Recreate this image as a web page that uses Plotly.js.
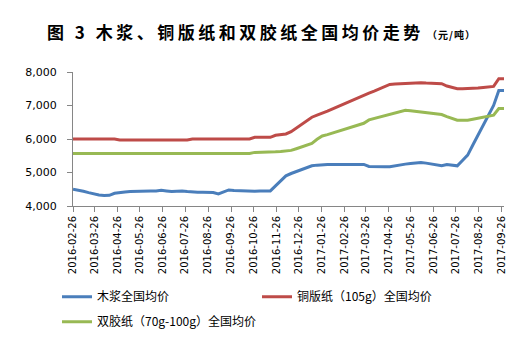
<!DOCTYPE html>
<html>
<head>
<meta charset="utf-8">
<script src="https://cdn.plot.ly/plotly-3.0.1.min.js"></script>
<style>html,body{margin:0;padding:0;background:#fff;}#chart{width:531px;height:337px;}
.gtitle{letter-spacing:3.5px;}</style>
</head>
<body>
<div id="chart"></div>
<script>
var dates = [
 "2016-02-26","2016-03-04","2016-03-11","2016-03-18","2016-03-25","2016-04-01","2016-04-08","2016-04-15","2016-04-22","2016-04-29",
 "2016-05-06","2016-05-13","2016-05-20","2016-05-27","2016-06-03","2016-06-10","2016-06-17","2016-06-24","2016-07-01","2016-07-08",
 "2016-07-15","2016-07-22","2016-07-29","2016-08-05","2016-08-12","2016-08-19","2016-08-26","2016-09-02","2016-09-09","2016-09-16",
 "2016-09-23","2016-09-30","2016-10-07","2016-10-14","2016-10-21","2016-10-28","2016-11-04","2016-11-11","2016-11-18","2016-11-25",
 "2016-12-02","2016-12-09","2016-12-16","2016-12-23","2016-12-30","2017-01-06","2017-01-13","2017-01-20","2017-01-27","2017-02-03",
 "2017-02-10","2017-02-17","2017-02-24","2017-03-03","2017-03-10","2017-03-17","2017-03-24","2017-03-31","2017-04-07","2017-04-14",
 "2017-04-21","2017-04-28","2017-05-05","2017-05-12","2017-05-19","2017-05-26","2017-06-02","2017-06-09","2017-06-16","2017-06-23",
 "2017-06-30","2017-07-07","2017-07-14","2017-07-21","2017-07-28","2017-08-04","2017-08-11","2017-08-18","2017-08-25","2017-09-01",
 "2017-09-08","2017-09-15","2017-09-22","2017-09-29"
];

var pulp = [
 4500,4480,4440,4400,4360,4330,4310,4320,4380,4410,
 4420,4430,4440,4440,4440,4450,4450,4470,4450,4430,
 4440,4450,4430,4410,4410,4410,4400,4400,4360,4420,
 4480,4460,4450,4440,4440,4440,4450,4450,4450,4600,
 4750,4900,4970,5030,5090,5150,5200,5220,5240,5240,
 5240,5240,5240,5240,5240,5240,5240,5180,5170,5170,
 5170,5170,5200,5240,5250,5270,5280,5300,5280,5250,
 5220,5200,5240,5220,5200,5360,5520,5820,6120,6420,
 6720,7000,7450,7450
];

var coated = [
 6000,6000,6000,6000,6000,6000,6000,6000,6000,5970,
 5970,5970,5970,5970,5970,5970,5970,5970,5970,5970,
 5970,5970,5970,6000,6000,6000,6000,6000,6000,6000,
 6000,6000,6000,6000,6000,6050,6050,6050,6050,6110,
 6130,6150,6220,6330,6440,6550,6650,6710,6760,6830,
 6900,6970,7030,7100,7170,7240,7300,7370,7430,7500,
 7570,7630,7640,7650,7660,7670,7680,7680,7670,7660,
 7650,7650,7580,7530,7500,7500,7500,7500,7520,7540,
 7550,7570,7800,7800
];

var offset = [
 5570,5570,5570,5570,5570,5570,5570,5570,5570,5570,
 5570,5570,5570,5570,5570,5570,5570,5570,5570,5570,
 5570,5570,5570,5570,5570,5570,5570,5570,5570,5570,
 5570,5570,5570,5570,5570,5600,5600,5600,5600,5620,
 5630,5640,5660,5710,5760,5810,5870,5990,6090,6130,
 6180,6220,6270,6320,6370,6420,6470,6570,6610,6650,
 6690,6730,6770,6800,6860,6840,6820,6800,6780,6760,
 6740,6730,6670,6610,6560,6560,6560,6590,6620,6650,
 6680,6710,6910,6910
];

var seriesNames = ["木浆全国均价", "铜版纸（105g）全国均价", "双胶纸（70g-100g）全国均价"];

var tickDates = ["2016-02-26","2016-03-26","2016-04-26","2016-05-26","2016-06-26","2016-07-26","2016-08-26","2016-09-26","2016-10-26","2016-11-26",
 "2016-12-26","2017-01-26","2017-02-26","2017-03-26","2017-04-26","2017-05-26","2017-06-26","2017-07-26","2017-08-26","2017-09-26"];

var yTicks = [4000, 5000, 6000, 7000, 8000];
var yTickText = ["4,000", "5,000", "6,000", "7,000", "8,000"];

var traces = [
 {x: dates, y: pulp, name: seriesNames[0], type: "scatter", mode: "lines", line: {color: "#4A7EBB", width: 3}, legend: "legend"},
 {x: dates, y: coated, name: seriesNames[1], type: "scatter", mode: "lines", line: {color: "#BE4B48", width: 3}, legend: "legend3"},
 {x: dates, y: offset, name: seriesNames[2], type: "scatter", mode: "lines", line: {color: "#98B954", width: 3}, legend: "legend2"}
];

var axisColor = "#868686";
var legendFont = {family: "Noto Sans CJK SC", size: 12, color: "#000"};
function legendAt(px, py) {
 return {
  orientation: "h", xref: "container", yref: "container",
  x: px / 531, xanchor: "left", y: 1 - py / 337, yanchor: "middle",
  itemwidth: 30, font: legendFont, bgcolor: "rgba(0,0,0,0)"
 };
}

var layout = {
 width: 531, height: 337,
 margin: {l: 73, r: 27, t: 72, b: 131, pad: 0},
 paper_bgcolor: "#fff", plot_bgcolor: "#fff",
 title: {
  text: "<b>图 3 木浆、铜版纸和双胶纸全国均价走势</b><b><span style='font-size:10px;letter-spacing:1px'> （元/吨）</span></b>",
  font: {family: "Noto Sans CJK SC", size: 17, color: "#000"},
  xref: "container", x: 47 / 531, xanchor: "left",
  yref: "container", y: 1 - 33 / 337, yanchor: "middle"
 },
 xaxis: {
  type: "date",
  range: ["2016-02-26", "2017-09-29"],
  tickvals: tickDates,
  ticktext: tickDates,
  tickangle: -90,
  tickfont: {family: "DejaVu Sans", size: 10, color: "#000"},
  showgrid: false, zeroline: false,
  showline: true, linecolor: axisColor, linewidth: 1,
  ticks: "outside", ticklen: 5, tickcolor: axisColor, tickwidth: 1
 },
 yaxis: {
  range: [4000, 8000],
  tickvals: yTicks, ticktext: yTickText,
  tickfont: {family: "DejaVu Sans", size: 11, color: "#000"},
  showgrid: false, zeroline: false,
  showline: true, linecolor: axisColor, linewidth: 1,
  ticks: "outside", ticklen: 5, tickcolor: axisColor, tickwidth: 1,
  ticklabelstandoff: 8
 },
 showlegend: true,
 legend: legendAt(57, 296.7),
 legend3: legendAt(257, 296.7),
 legend2: legendAt(57, 321.7)
};

Plotly.newPlot("chart", traces, layout, {displayModeBar: false, staticPlot: true});
</script>
</body>
</html>
